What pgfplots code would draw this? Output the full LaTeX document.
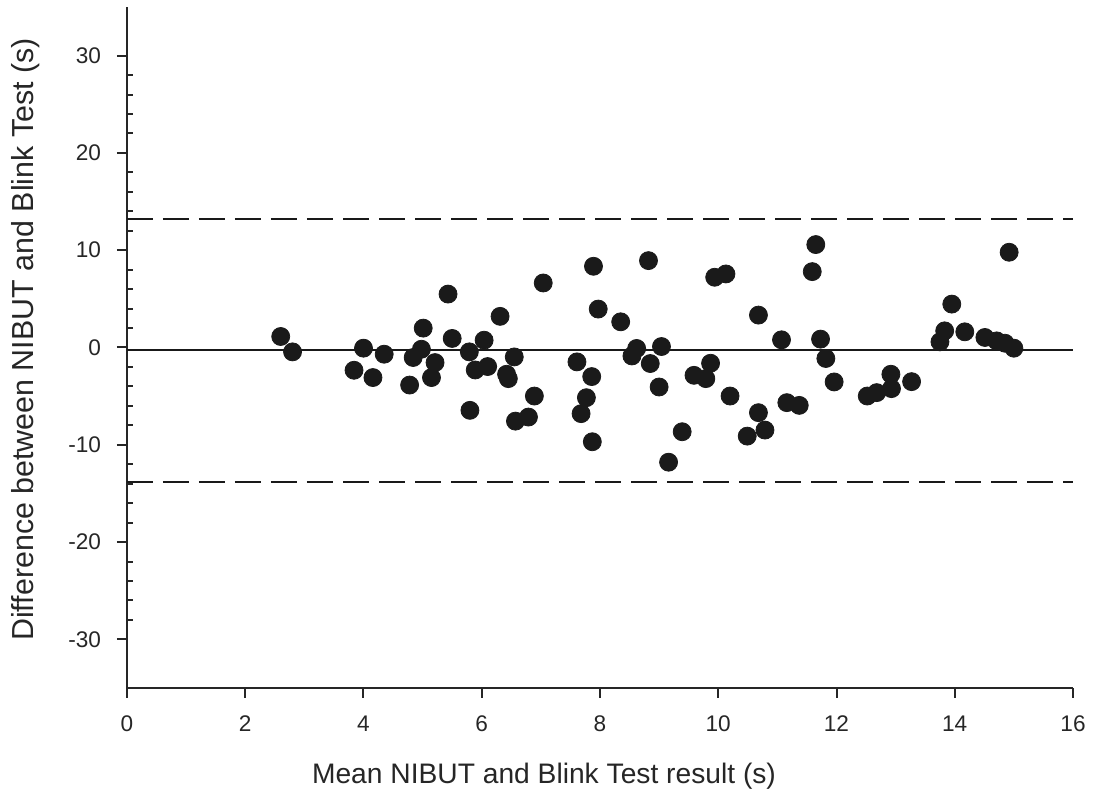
\documentclass[border=0pt]{standalone}
\usepackage{fontspec}
\setmainfont{Liberation Sans}
\usepackage{pgfplots}
\pgfplotsset{compat=1.18}

\definecolor{dot}{HTML}{1A1A1A}

\begin{document}
\begin{tikzpicture}
\begin{axis}[scale only axis, width=473pt, height=340.5pt,
  xmin=0, xmax=16, ymin=-35, ymax=35,
  axis x line=bottom, axis y line=left,
  axis line style={-, line width=1.1pt, color=black!85},
  xtick={0,2,...,16}, ytick={-30,-20,...,30}, minor y tick num=4,
  tick align=outside, major tick length=5pt, minor tick length=3pt,
  tick style={line width=1pt, color=black!85},
  minor y tick style={xshift=3pt},
  /pgf/number format/assume math mode=true,
  tick label style={font=\fontsize{11.3}{13}\selectfont, color=black!85},
  xticklabel style={yshift=-5.5pt}, yticklabel style={xshift=-4.5pt},
  xlabel={Mean NIBUT and Blink Test result (s)},
  ylabel={Difference between NIBUT and Blink Test (s)},
  xlabel style={font=\fontsize{14.1}{17}\selectfont, color=black!85,
    at={(axis description cs:0.5,0)}, anchor=north, yshift=-34pt, xshift=-28pt},
  ylabel style={font=\fontsize{15.2}{18}\selectfont, color=black!85,
    at={(axis description cs:0,0.5)}, anchor=south, yshift=40pt, xshift=4pt},
  clip=false]
\addplot[line width=1pt, color=black!90] coordinates {(0,-0.28)(16,-0.28)};
\addplot[line width=1pt, color=black!90, dash pattern=on 13pt off 5pt] coordinates {(0,13.2)(16,13.2)};
\addplot[line width=1pt, color=black!90, dash pattern=on 13pt off 5pt] coordinates {(0,-13.8)(16,-13.8)};
\addplot[only marks, mark=*, mark size=4.5pt, mark options={fill=dot, draw=dot}] coordinates {
(2.60,1.13)(2.80,-0.45)(3.84,-2.34)(4.00,-0.07)(4.16,-3.09)(4.35,-0.69)
(4.78,-3.86)(4.84,-1.03)(4.98,-0.18)(5.01,1.99)(5.15,-3.09)(5.21,-1.55)
(5.43,5.49)(5.50,0.93)(5.79,-0.45)(5.80,-6.46)(5.89,-2.31)(6.04,0.75)
(6.10,-1.96)(6.31,3.20)(6.42,-2.75)(6.45,-3.20)(6.55,-0.97)(6.57,-7.57)
(6.79,-7.15)(6.89,-4.99)(7.04,6.63)(7.61,-1.48)(7.68,-6.80)(7.77,-5.16)
(7.86,-2.99)(7.87,-9.69)(7.89,8.35)(7.97,3.95)(8.35,2.64)(8.54,-0.87)
(8.62,-0.10)(8.82,8.93)(8.85,-1.65)(9.00,-4.06)(9.04,0.10)(9.16,-11.79)
(9.39,-8.66)(9.59,-2.86)(9.79,-3.20)(9.87,-1.62)(9.94,7.22)(10.13,7.56)
(10.20,-4.99)(10.49,-9.11)(10.68,3.33)(10.68,-6.70)(10.79,-8.49)(11.07,0.79)
(11.16,-5.67)(11.37,-5.95)(11.59,7.80)(11.65,10.58)(11.73,0.86)(11.82,-1.13)
(11.96,-3.54)(12.52,-4.99)(12.68,-4.64)(12.92,-2.75)(12.93,-4.23)(13.27,-3.51)
(13.75,0.58)(13.83,1.71)(13.95,4.46)(14.17,1.61)(14.51,1.03)(14.71,0.68)
(14.85,0.44)(15.00,-0.07)(14.92,9.79)};
\coordinate (ll) at (rel axis cs:0,0);
\coordinate (ur) at (rel axis cs:1,1);
\end{axis}
\pgfresetboundingbox
\path ([shift={(-63.5pt,-56pt)}]ll) rectangle ([shift={(10pt,3.5pt)}]ur);
\end{tikzpicture}
\end{document}
